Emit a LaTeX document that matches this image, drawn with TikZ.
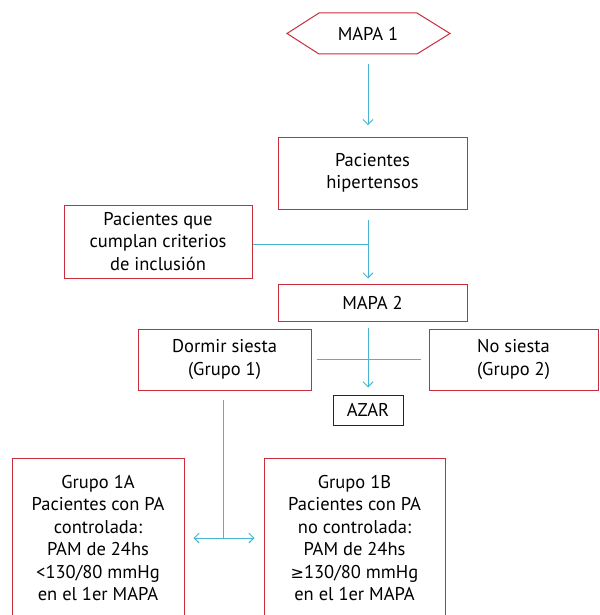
\documentclass[tikz,border=0pt]{standalone}
\usepackage{fontspec}
\setmainfont{PT Sans}
\newfontfamily\symfont{DejaVu Sans}
\usetikzlibrary{arrows.meta}
\definecolor{boxred}{RGB}{200,45,60}
\definecolor{lineblue}{RGB}{70,180,210}
\begin{document}
\begin{tikzpicture}[x=1pt,y=-1pt,
  every node/.style={font=\fontsize{18.5}{22.4}\selectfont, align=center, inner sep=0pt},
  rbox/.style={draw=boxred, line width=1pt, rectangle},
  kbox/.style={draw=black!85, line width=1pt, rectangle},
  cl/.style={draw=lineblue, line width=1pt},
  arr/.style={cl, -{Straight Barb[length=5pt,width=10pt]}},
  arrtwo/.style={cl, {Straight Barb[length=5pt,width=10pt]}-{Straight Barb[length=5pt,width=10pt]}}]
\useasboundingbox (0,0) rectangle (599,615);
% hexagon
\node (m1) [minimum width=163pt, minimum height=41pt] at (368,33.5) {MAPA 1};
\draw[boxred, line width=1pt] (287,33.5) -- (319,13) -- (417,13) -- (450,33.5) -- (417,54) -- (319,54) -- cycle;
\node (hip) [rbox, minimum width=189pt, minimum height=72pt] at (372.5,173) {Pacientes\\hipertensos};
\node (crit) [rbox, minimum width=188pt, minimum height=73pt] at (158,241.5) {Pacientes que\\cumplan criterios\\de inclusión};
\node (m2) [rbox, minimum width=189pt, minimum height=37pt] at (372.5,302.5) {MAPA 2};
\node (dorm) [rbox, minimum width=173pt, minimum height=61pt] at (224.5,359.5) {Dormir siesta\\(Grupo 1)};
\node (nos) [rbox, minimum width=169pt, minimum height=61pt] at (513.5,359.5) {No siesta\\(Grupo 2)};
\node (azar) [kbox, minimum width=70pt, minimum height=30pt] at (368,410) {AZAR};
\node (ga) [rbox, minimum width=172pt, minimum height=160pt] at (98,538) {Grupo 1A\\Pacientes con PA\\controlada:\\PAM de 24hs\\<130/80 mmHg\\en el 1er MAPA};
\node (gb) [rbox, minimum width=181pt, minimum height=160pt] at (354.5,538) {Grupo 1B\\Pacientes con PA\\no controlada:\\PAM de 24hs\\{\symfont\fontsize{16}{22.4}\selectfont ≥}130/80 mmHg\\en el 1er MAPA};
\coordinate (j1) at (368,244);
\coordinate (j2) at (223,538);
% connectors
\draw[arr, shorten <=10pt, shorten >=1pt] (m1.south) -- ++(0,72);
\draw[arr, shorten <=10pt, shorten >=5pt] (hip.south -| j1) -- (m2.north -| j1);
\draw[cl] (crit.east |- j1) -- (j1);
\draw[arr, shorten <=6pt, shorten >=7pt] (m2.south -| azar) -- (azar.north);
\draw[cl, shorten <=5pt, shorten >=8pt] (dorm.east) -- (nos.west);
\draw[cl, shorten <=9pt] (dorm.south -| j2) -- (j2);
\draw[arrtwo, shorten <=9pt, shorten >=9pt] (ga.east |- j2) -- (gb.west |- j2);
\end{tikzpicture}
\end{document}
